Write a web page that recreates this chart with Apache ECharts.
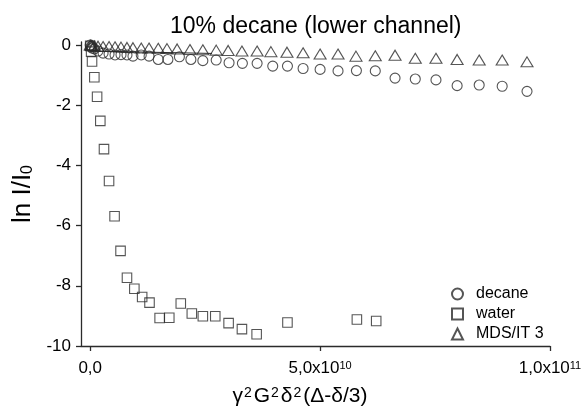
<!DOCTYPE html>
<html>
<head>
<meta charset="utf-8">
<script src="https://cdn.jsdelivr.net/npm/echarts@6/dist/echarts.min.js"></script>
<style>
  html, body { margin: 0; padding: 0; background: #fff; }
  #chart { width: 584px; height: 407px; }
</style>
</head>
<body>
<div id="chart"></div>
<script>
// Gradient factor x = γ²G²δ²(Δ-δ/3), stored in units of 1e9
const X_UNIT = 1e9;

// decane (circles)
const decaneX = [0, 0.2, 0.4, 0.9, 1.7, 2.8, 4.1, 5.4, 6.7, 8.0, 9.3, 11.1, 12.8, 14.8, 16.9,
  19.4, 21.9, 24.5, 27.4, 30.2, 33.1, 36.3, 39.7, 42.9, 46.3, 50.0, 53.9, 57.9, 62.0, 66.3,
  70.7, 75.2, 79.8, 84.6, 89.6, 95.0];
const decaneY = [0, -0.05, -0.1, -0.13, -0.2, -0.27, -0.3, -0.33, -0.32, -0.33, -0.37, -0.33,
  -0.37, -0.48, -0.48, -0.39, -0.48, -0.52, -0.5, -0.59, -0.61, -0.61, -0.7, -0.7, -0.78,
  -0.81, -0.86, -0.85, -0.86, -1.1, -1.13, -1.16, -1.35, -1.33, -1.37, -1.54];

// water (squares)
const waterX = [0, 0.2, 0.4, 0.9, 1.5, 2.2, 3.0, 4.1, 5.3, 6.6, 8.0, 9.6, 11.3, 12.9, 15.1,
  17.2, 19.7, 22.1, 24.5, 27.2, 30.1, 33.0, 36.2, 42.9, 58.0, 62.2];
const waterY = [-0.03, -0.22, -0.55, -1.07, -1.72, -2.52, -3.46, -4.52, -5.69, -6.84, -7.73,
  -8.1, -8.37, -8.56, -9.07, -9.06, -8.59, -8.92, -9.01, -9.01, -9.24, -9.44, -9.61, -9.22,
  -9.12, -9.17];

// MDS/IT 3 (triangles)
const mdsX = [0, 0.2, 0.4, 0.9, 1.7, 2.8, 4.1, 5.4, 6.7, 8.0, 9.3, 11.1, 12.8, 14.8, 16.7,
  18.9, 21.7, 24.5, 27.4, 30.0, 33.0, 36.3, 39.3, 42.8, 46.3, 50.0, 53.9, 57.8, 62.0, 66.3,
  70.7, 75.2, 79.8, 84.6, 89.6, 95.0];
const mdsY = [0, -0.01, -0.02, -0.03, -0.04, -0.05, -0.05, -0.06, -0.07, -0.08, -0.09, -0.1,
  -0.1, -0.11, -0.12, -0.13, -0.15, -0.16, -0.17, -0.18, -0.2, -0.2, -0.22, -0.24, -0.26,
  -0.3, -0.3, -0.37, -0.36, -0.34, -0.44, -0.44, -0.48, -0.5, -0.5, -0.56];

// initial-slope line through the decane points
const fitX = [0, 26.5];
const fitY = [-0.2, -0.28];

// axis ticks
const xTicks = [0, 5e10, 1e11];
const xTickText = { 0: '0,0', 5e10: '5,0x10{s|10}', 1e11: '1,0x10{s|11}' };
const yTicks = [-10, -8, -6, -4, -2, 0];

const FONT = '"Liberation Sans", Arial, sans-serif';
const INK = '#2b2b2b';

function pairs(xs, ys) {
  return xs.map((x, i) => [x * X_UNIT, ys[i]]);
}

const hollow = {
  color: 'rgba(0,0,0,0)',
  borderColor: INK,
  borderWidth: 1.1
};

const chart = echarts.init(document.getElementById('chart'), null, { renderer: 'canvas' });

chart.setOption({
  animation: false,
  backgroundColor: '#fff',
  title: {
    text: '10% decane (lower channel)',
    left: 170,
    top: 15,
    padding: 0,
    textStyle: { fontFamily: FONT, fontSize: 23, fontWeight: 'normal', color: '#000' }
  },
  grid: { left: 81, right: 34, top: 42, bottom: 61, outerBoundsMode: 'none' },
  legend: {
    data: ['decane', 'water', 'MDS/IT 3'],
    orient: 'vertical',
    left: 451,
    top: 286,
    padding: 0,
    itemWidth: 11,
    itemHeight: 11,
    itemGap: 4,
    textStyle: { fontFamily: FONT, fontSize: 16, color: '#000', padding: [0, 0, 0, 8] }
  },
  xAxis: {
    type: 'value',
    min: -2e9,
    max: 1e11,
    name: 'γ{s|2}G{s|2}δ{s|2}(Δ-δ/3)',
    nameLocation: 'middle',
    nameGap: 40,
    nameTextStyle: {
      fontFamily: FONT, fontSize: 21, color: '#000', padding: [0, 31, 0, 0],
      rich: { s: { fontFamily: FONT, fontSize: 14, verticalAlign: 'top', color: '#000', padding: [0, 2, 0, 1] } }
    },
    splitLine: { show: false },
    axisLine: { onZero: false, lineStyle: { color: INK, width: 1.3 } },
    axisTick: { customValues: xTicks, length: 5, lineStyle: { color: INK, width: 1.3 } },
    axisLabel: {
      customValues: xTicks,
      margin: 14,
      fontFamily: FONT, fontSize: 17, color: '#000',
      formatter: v => xTickText[v] !== undefined ? xTickText[v] : '',
      rich: { s: { fontFamily: FONT, fontSize: 11, verticalAlign: 'top', color: '#000' } }
    }
  },
  yAxis: {
    type: 'value',
    min: -10,
    max: 0.1,
    name: 'ln I/I{s|0}',
    nameLocation: 'middle',
    nameGap: 40,
    nameTextStyle: {
      fontFamily: FONT, fontSize: 26, color: '#000',
      rich: { s: { fontFamily: FONT, fontSize: 16, verticalAlign: 'bottom', color: '#000' } }
    },
    splitLine: { show: false },
    axisLine: { show: true, onZero: false, lineStyle: { color: INK, width: 1.3 } },
    axisTick: { show: true, customValues: yTicks, length: 5, lineStyle: { color: INK, width: 1.3 } },
    axisLabel: {
      customValues: yTicks,
      margin: 10,
      fontFamily: FONT, fontSize: 17, color: '#000'
    }
  },
  series: [
    {
      name: 'fit',
      type: 'line',
      data: pairs(fitX, fitY),
      symbol: 'none',
      lineStyle: { color: INK, width: 1 },
      z: 1
    },
    {
      name: 'decane',
      type: 'scatter',
      symbol: 'circle',
      symbolSize: 10,
      data: pairs(decaneX, decaneY),
      itemStyle: hollow
    },
    {
      name: 'water',
      type: 'scatter',
      symbol: 'rect',
      symbolSize: 9.5,
      data: pairs(waterX, waterY),
      itemStyle: hollow
    },
    {
      name: 'MDS/IT 3',
      type: 'scatter',
      symbol: 'triangle',
      symbolSize: [12, 10],
      data: pairs(mdsX, mdsY),
      itemStyle: hollow
    }
  ]
});
</script>
</body>
</html>
